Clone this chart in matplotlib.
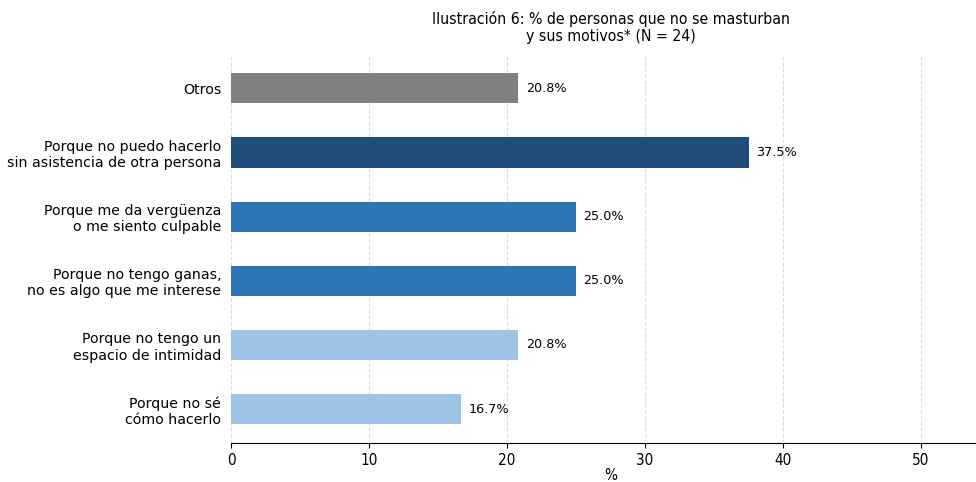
import matplotlib.pyplot as plt

# Datos
categorias = ["Porque no sé\ncómo hacerlo",
              "Porque no tengo un\nespacio de intimidad",
              "Porque no tengo ganas,\nno es algo que me interese",
              "Porque me da vergüenza\no me siento culpable",
              "Porque no puedo hacerlo\nsin asistencia de otra persona",
              "Otros"]
valores = [16.7, 20.8, 25.0, 25.0, 37.5, 20.8]
colores = ["#9dc3e6", "#9dc3e6", "#2e75b6", "#2e75b6", "#1f4e79", "#808080"]

fig = plt.figure(figsize=(9.76, 4.82), dpi=100)
ax = fig.add_axes([231 / 976, 39 / 482, 759 / 976, 388 / 482])

pos = list(range(len(categorias)))
ax.barh(pos, valores, height=0.47, color=colores, zorder=3)

for y, v in zip(pos, valores):
    ax.text(v + 0.55, y, f"{v:.1f}%", va="center", ha="left", fontsize=9.2)

ax.set_yticks(pos)
ax.set_yticklabels(categorias, fontsize=10.2)
ax.tick_params(axis="y", length=0, pad=7)
ax.set_xlim(0, 55)
ax.set_ylim(-0.53, 5.52)
ax.set_xticks([0, 10, 20, 30, 40, 50])
ax.tick_params(axis="x", labelsize=11)
for lbl in ax.get_xticklabels():
    lbl.set_fontstretch("condensed")

ax.xaxis.grid(True, linestyle="--", color="#dddddd", linewidth=0.8, zorder=0)
for s in ["top", "right", "left"]:
    ax.spines[s].set_visible(False)

ax.set_xlabel("%", fontsize=11, fontstretch="condensed", labelpad=0)
ax.set_title("Ilustración 6: % de personas que no se masturban\ny sus motivos* (N = 24)",
             fontsize=11.3, fontstretch="condensed", pad=10)

plt.savefig("out.png", dpi=100)
plt.close()
